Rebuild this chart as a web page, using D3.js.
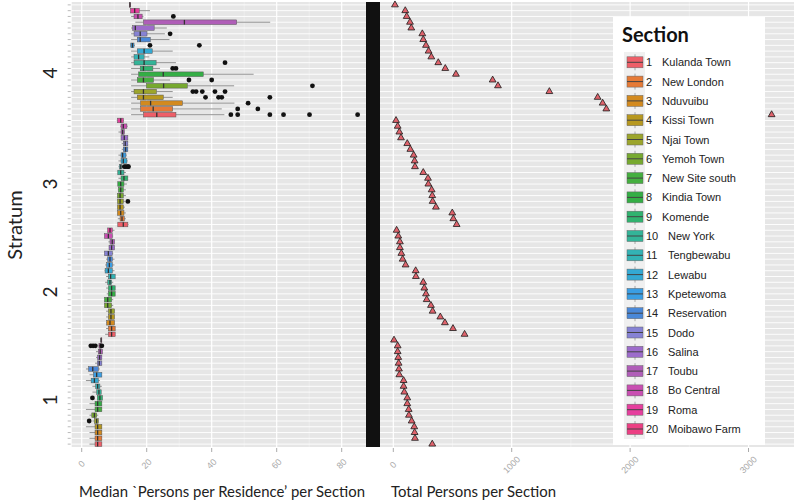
<!DOCTYPE html>
<html><head><meta charset="utf-8">
<script src="https://cdn.jsdelivr.net/npm/d3@7"></script>
<style>body{margin:0;background:#fff}svg{display:block}</style>
</head><body>
<svg id="c" width="794" height="502"></svg>
<script>
// ---------- DATA ----------
const strata = ["4", "3", "2", "1"];
const sectionNames = ["Kulanda Town","New London","Nduvuibu","Kissi Town","Njai Town","Yemoh Town","New Site south","Kindia Town","Komende","New York","Tengbewabu","Lewabu","Kpetewoma","Reservation","Dodo","Salina","Toubu","Bo Central","Roma","Moibawo Farm"];
const sectionCounts = [20, 19, 19, 19]; // sections present in strata 4,3,2,1

// box stats per section (section 1 first): [lower whisker, q1, median, q3, upper whisker]
const box4 = [
  [15.2,19.0,23.1,29.0,43.9],[15.2,18.1,22.0,28.0,43.1],[15.2,18.1,21.2,31.0,47.0],[15.2,17.1,19.0,25.1,28.0],
  [15.2,16.1,19.0,23.0,28.0],[15.2,19.9,25.2,32.5,46.9],[15.2,17.1,19.0,22.1,27.2],[15.2,17.5,25.1,37.4,52.9],
  [15.2,18.0,19.0,21.9,24.1],[15.2,16.1,19.2,22.9,29.0],[15.2,16.1,17.5,19.2,20.8],[15.2,17.1,19.2,21.7,28.0],
  [15.0,15.1,15.6,16.1,16.4],[15.2,17.1,18.0,21.1,27.0],[15.2,16.1,18.0,20.1,25.6],[15.2,15.7,16.5,22.3,26.2],
  [16.5,19.0,31.6,47.7,58.0],[15.2,16.1,17.3,18.6,19.0],[15.0,15.0,16.3,17.7,21.0],[14.7,14.7,14.85,15.0,15.1]
];
const out4 = [
  [45.9,48.0,57.9,62.1,70.1,84.9],[48.0,54.2],[51.2],[38.1,42.1,43.1,57.9],
  [34.2,35.2,37.1,41.0,44.1],[71.0],[33.0,40.0],[],
  [28.0,29.0],[44.1],[],[],
  [21.0,36.2],[],[27.2],[],
  [],[28.2],[],[]
];
const box3 = [
  [11.1,11.1,12.8,14.2,14.4],[11.1,11.8,12.4,13.1,13.6],[11.0,11.0,12.0,13.0,13.6],[11.0,11.0,11.8,12.8,13.3],
  [11.0,11.0,11.8,12.8,13.3],[11.0,11.0,11.8,12.8,13.6],[11.1,11.3,12.0,12.8,13.6],[11.1,11.1,12.0,13.0,13.9],
  [11.3,12.1,13.0,14.2,14.2],[11.1,11.1,12.0,13.0,13.6],[11.3,11.6,12.0,12.3,12.6],[11.3,12.1,12.8,13.9,14.2],
  [11.3,12.1,12.6,13.6,13.9],[12.3,12.8,13.5,14.2,14.2],[12.3,12.8,13.4,14.2,14.2],[12.1,12.1,13.1,14.2,14.2],
  [11.3,12.1,12.6,13.1,13.3],[11.8,12.1,12.8,13.9,14.2],[10.8,11.0,12.0,12.8,13.0]
];
const out3 = [[],[],[],[],[14.2],[],[],[],[],[],[13.1,13.6,14.2,14.4],[],[],[],[],[],[],[],[]];
const box2 = [
  [7.2,8.2,9.2,10.3,10.3],[7.5,8.2,9.2,10.3,10.3],[7.5,7.7,8.7,10.1,10.1],[7.5,8.2,9.0,10.1,10.1],
  [7.5,8.2,9.0,10.1,10.1],[7.0,7.0,8.0,9.2,9.7],[7.0,7.0,8.0,9.2,9.7],[7.7,8.2,9.2,10.3,10.3],
  [7.5,8.2,9.2,10.3,10.3],[7.2,8.0,8.7,9.2,9.7],[7.5,8.2,8.9,10.3,10.3],[7.0,7.2,8.2,9.4,10.1],
  [7.2,7.7,8.5,9.4,10.1],[7.5,8.0,8.7,9.4,10.1],[7.0,7.0,8.2,9.4,9.7],[8.4,8.4,9.2,10.1,10.1],
  [8.2,8.7,9.4,10.1,10.1],[7.0,7.0,8.2,9.4,9.7],[8.0,8.0,8.7,9.4,10.1]
];
const out2 = [[],[],[],[],[],[],[],[],[],[],[],[],[],[],[],[],[],[],[]];
const box1 = [
  [2.4,4.1,4.9,6.2,6.2],[2.4,4.1,4.9,6.2,6.2],[2.4,4.1,4.9,6.2,6.2],[1.3,4.1,4.9,6.2,6.2],
  [3.3,3.9,4.6,5.1,5.3],[2.4,3.1,3.9,4.6,5.1],[1.3,4.1,4.9,6.2,6.2],[2.4,4.1,4.9,6.2,6.2],
  [4.8,4.8,5.6,6.4,6.4],[3.3,4.6,5.3,6.0,6.0],[3.3,4.3,4.9,5.6,6.2],[1.3,2.9,3.9,5.1,5.6],
  [2.4,3.6,4.6,6.2,6.2],[1.3,2.1,3.4,5.1,5.6],[4.1,4.8,5.4,6.2,6.2],[4.4,4.9,5.5,6.2,6.2],
  [4.4,5.1,5.7,6.4,6.4],[5.1,5.3,5.7,6.0,6.0],[5.95,5.95,5.95,5.95,5.95]
];
const out1 = [[],[],[],[],[2.3],[],[],[],[3.3],[],[],[],[],[],[],[],[],[2.8,3.5,4.2,6.2],[]];

// total persons per section, rows from top to bottom within each stratum
const totals4 = [14,101,113,141,152,245,253,276,298,321,380,439,529,839,884,1318,1726,1768,1799,3195];
const totals3 = [23,37,51,65,118,144,172,180,183,253,293,296,324,329,332,360,498,507,535];
const totals2 = [28,42,56,56,68,79,104,189,191,253,262,276,282,318,332,397,436,504,602];
const totals1 = [6,37,37,42,45,48,51,87,87,93,118,118,130,132,155,177,180,183,329];

const leftTicks = [0, 20, 40, 60, 80];
const rightTicks = [0, 1000, 2000, 3000];

// ---------- STYLE ----------
const palette = ["#EE5F68","#E67A36","#D38A1F","#B7981F","#9CA52C","#77A92F","#45AF3F","#34AE45","#30B36F","#33B498",
                 "#33B3B5","#34A9D3","#3A9EE4","#4A88D8","#8682D4","#9D6CCB","#B05EB8","#C94FB2","#E63F9E","#EC3F83"];

// ---------- BUILD ----------
const svg = d3.select("#c");
const boxes = [box4, box3, box2, box1];
const outs = [out4, out3, out2, out1];
const totals = [totals4, totals3, totals2, totals1];

const rows = [];
const rightRows = [];
strata.forEach((s, k) => {
  for (let sec = sectionCounts[k]; sec >= 1; sec--) {
    rows.push({stratum: s, sec, stats: boxes[k][sec - 1], out: outs[k][sec - 1]});
  }
  totals[k].forEach(v => rightRows.push({stratum: s, v}));
});

const yTop = 2, yBot = 447;
const y = d3.scaleBand().domain(d3.range(rows.length)).range([yTop, yBot]);
const yc = i => y(i) + y.bandwidth() / 2;

const L0 = 71.7, L1 = 366, R0 = 380, R1 = 794;
const xL = d3.scaleLinear().domain([-3.08, 87.48]).range([L0, L1]);
const xR = d3.scaleLinear().domain([-112.3, 3384]).range([R0, R1]);

// panels
svg.append("rect").attr("x", L0).attr("y", yTop).attr("width", L1 - L0).attr("height", yBot - yTop).attr("fill", "#e6e6e6");
svg.append("rect").attr("x", R0).attr("y", yTop).attr("width", R1 - R0).attr("height", yBot - yTop).attr("fill", "#e6e6e6");

// vertical grid
const gL = svg.append("g");
[10, 30, 50, 70].forEach(v => gL.append("line").attr("x1", xL(v)).attr("x2", xL(v)).attr("y1", yTop).attr("y2", yBot).attr("stroke", "#f4f4f4").attr("stroke-width", 0.6));
leftTicks.forEach(v => gL.append("line").attr("x1", xL(v)).attr("x2", xL(v)).attr("y1", yTop).attr("y2", yBot).attr("stroke", "#fff").attr("stroke-width", 1.2));
[500, 1500, 2500].forEach(v => gL.append("line").attr("x1", xR(v)).attr("x2", xR(v)).attr("y1", yTop).attr("y2", yBot).attr("stroke", "#f4f4f4").attr("stroke-width", 0.6));
rightTicks.forEach(v => gL.append("line").attr("x1", xR(v)).attr("x2", xR(v)).attr("y1", yTop).attr("y2", yBot).attr("stroke", "#fff").attr("stroke-width", 1.2));

// horizontal grid for each row
rows.forEach((r, i) => {
  svg.append("line").attr("x1", L0).attr("x2", L1).attr("y1", yc(i)).attr("y2", yc(i)).attr("stroke", "#fff").attr("stroke-width", 0.9);
  svg.append("line").attr("x1", R0).attr("x2", R1).attr("y1", yc(i)).attr("y2", yc(i)).attr("stroke", "#fff").attr("stroke-width", 0.9);
  svg.append("line").attr("x1", L0 - 4).attr("x2", L0 - 1).attr("y1", yc(i)).attr("y2", yc(i)).attr("stroke", "#aaa").attr("stroke-width", 0.8);
});

// boxplots
const bh = y.bandwidth() * 0.8;
const gB = svg.append("g");
rows.forEach((r, i) => {
  const [lo, q1, md, q3, hi] = r.stats;
  const cy = yc(i);
  const col = palette[r.sec - 1];
  gB.append("line").attr("x1", xL(lo)).attr("x2", xL(q1)).attr("y1", cy).attr("y2", cy).attr("stroke", "#777").attr("stroke-width", 0.8);
  gB.append("line").attr("x1", xL(q3)).attr("x2", xL(hi)).attr("y1", cy).attr("y2", cy).attr("stroke", "#777").attr("stroke-width", 0.8);
  gB.append("rect").attr("x", xL(q1)).attr("y", cy - bh / 2).attr("width", Math.max(0.8, xL(q3) - xL(q1))).attr("height", bh)
    .attr("fill", col).attr("stroke", "#555").attr("stroke-width", 0.5);
  gB.append("line").attr("x1", xL(md)).attr("x2", xL(md)).attr("y1", cy - bh / 2).attr("y2", cy + bh / 2).attr("stroke", "#333").attr("stroke-width", 1.3);
  r.out.forEach(o => gB.append("circle").attr("cx", xL(o)).attr("cy", cy).attr("r", 2.4).attr("fill", "#111"));
});

// triangles
const tri = d3.symbol().type(d3.symbolTriangle).size(20);
svg.append("g").selectAll("path").data(rightRows).join("path")
  .attr("d", tri).attr("transform", (d, i) => `translate(${xR(d.v)},${yc(i)})`)
  .attr("fill", "#E0636C").attr("stroke", "#1a1a1a").attr("stroke-width", 0.8);

// black separator
svg.append("rect").attr("x", 366).attr("y", yTop).attr("width", 14).attr("height", yBot - yTop).attr("fill", "#111");

// x axes ticks and labels
const tickCol = "#aaa";
leftTicks.forEach(v => {
  svg.append("line").attr("x1", xL(v)).attr("x2", xL(v)).attr("y1", yBot + 1).attr("y2", yBot + 5).attr("stroke", tickCol);
  svg.append("text").attr("transform", `translate(${xL(v) + 2},${yBot + 19}) rotate(-45)`).attr("text-anchor", "middle")
    .attr("font-family", "Liberation Sans, Arial").attr("font-size", 9).attr("fill", "#aaa").text(v);
});
rightTicks.forEach(v => {
  svg.append("line").attr("x1", xR(v)).attr("x2", xR(v)).attr("y1", yBot + 1).attr("y2", yBot + 5).attr("stroke", tickCol);
  svg.append("text").attr("transform", `translate(${xR(v) + 2},${yBot + 20}) rotate(-45)`).attr("text-anchor", "middle")
    .attr("font-family", "Liberation Sans, Arial").attr("font-size", 9).attr("fill", "#aaa").text(v);
});

// axis titles
svg.append("text").attr("x", 79).attr("y", 497).attr("font-family", "Lato, Open Sans").attr("font-size", 16).attr("fill", "#222")
  .attr("textLength", 286).attr("lengthAdjust", "spacingAndGlyphs").text("Median `Persons per Residence’ per Section");
svg.append("text").attr("x", 391).attr("y", 497).attr("font-family", "Lato, Open Sans").attr("font-size", 16).attr("fill", "#222")
  .attr("textLength", 165).attr("lengthAdjust", "spacingAndGlyphs").text("Total Persons per Section");

// y labels
svg.append("text").attr("transform", "translate(22,225) rotate(-90)").attr("text-anchor", "middle")
  .attr("font-family", "Lato, Open Sans").attr("font-size", 20).attr("fill", "#222").text("Stratum");
const stratumY = [73, 184, 292, 400];
strata.forEach((s, k) => {
  svg.append("text").attr("transform", `translate(57,${stratumY[k]}) rotate(-90)`).attr("text-anchor", "middle")
    .attr("font-family", "Lato, Open Sans").attr("font-size", 19).attr("fill", "#222").text(s);
});

// legend
const lg = svg.append("g");
lg.append("rect").attr("x", 613).attr("y", 17).attr("width", 152).attr("height", 428).attr("fill", "#fff");
lg.append("text").attr("x", 622).attr("y", 42).attr("font-family", "Lato, Open Sans").attr("font-weight", "bold").attr("font-size", 20).attr("fill", "#111").text("Section");
lg.append("rect").attr("x", 624).attr("y", 52).attr("width", 21).attr("height", 387).attr("fill", "#f0f0f0");
sectionNames.forEach((name, i) => {
  const cy = 62.3 + i * 19.3;
  lg.append("line").attr("x1", 635).attr("x2", 635).attr("y1", cy - 8).attr("y2", cy + 8).attr("stroke", "#888").attr("stroke-width", 0.7);
  lg.append("rect").attr("x", 627).attr("y", cy - 5.5).attr("width", 16).attr("height", 11).attr("fill", palette[i]).attr("stroke", "#666").attr("stroke-width", 0.5);
  lg.append("line").attr("x1", 627).attr("x2", 643).attr("y1", cy).attr("y2", cy).attr("stroke", "#444").attr("stroke-width", 1);
  lg.append("text").attr("x", 646).attr("y", cy + 4).attr("font-family", "Liberation Sans, Arial").attr("font-size", 11).attr("fill", "#222").text(i + 1);
  lg.append("text").attr("x", i < 9 ? 662 : 668).attr("y", cy + 4).attr("font-family", "Liberation Sans, Arial").attr("font-size", 11).attr("fill", "#222").text(name);
});
</script>
</body></html>
